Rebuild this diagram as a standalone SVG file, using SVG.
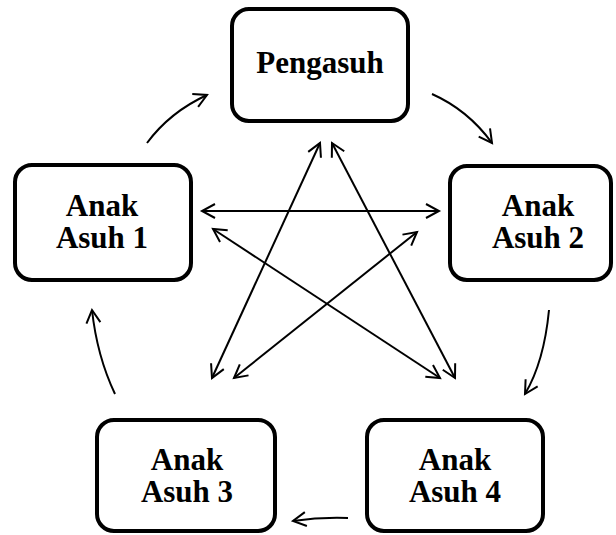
<svg xmlns="http://www.w3.org/2000/svg" width="616" height="535" viewBox="0 0 616 535">
<style>
.box{fill:#fff;stroke:#000;stroke-width:4}
.t{font-family:"Liberation Serif","Times New Roman",serif;font-weight:bold;font-size:31px;text-anchor:middle;fill:#000}
.c{fill:none;stroke:#000;stroke-width:2}
</style>
<defs>
<marker id="ah" markerUnits="userSpaceOnUse" markerWidth="20" markerHeight="20" refX="0" refY="0" viewBox="-14 -10 16 20" orient="auto-start-reverse" overflow="visible">
<path d="M-13,-7 L0,0 L-13,7" fill="none" stroke="#000" stroke-width="2"/>
</marker>
</defs>
<rect width="616" height="535" fill="#fff"/>
<g id="connectors">
<line class="c" x1="202" y1="211" x2="439" y2="211" marker-start="url(#ah)" marker-end="url(#ah)"/>
<line class="c" x1="320" y1="143" x2="212" y2="378" marker-start="url(#ah)" marker-end="url(#ah)"/>
<line class="c" x1="332" y1="143" x2="455" y2="378" marker-start="url(#ah)" marker-end="url(#ah)"/>
<line class="c" x1="213" y1="229" x2="440" y2="378" marker-start="url(#ah)" marker-end="url(#ah)"/>
<line class="c" x1="417" y1="232" x2="234" y2="378" marker-start="url(#ah)" marker-end="url(#ah)"/>
<path class="c" d="M147,143 Q170,112 207,95" marker-end="url(#ah)"/>
<path class="c" d="M432,94 Q468,110 492,143" marker-end="url(#ah)"/>
<path class="c" d="M549,310 Q544,362 525,394" marker-end="url(#ah)"/>
<path class="c" d="M348,518 Q320,517 293,521" marker-end="url(#ah)"/>
<path class="c" d="M115,394 Q97,356 92,310" marker-end="url(#ah)"/>
</g>
<g id="pengasuh">
<rect class="box" x="232" y="9" width="176" height="112" rx="17"/>
<text class="t" x="320" y="73">Pengasuh</text>
</g>
<g id="anak-asuh-1">
<rect class="box" x="15" y="165" width="176" height="115" rx="17"/>
<text class="t" x="102" y="216">Anak</text>
<text class="t" x="102" y="248">Asuh 1</text>
</g>
<g id="anak-asuh-2">
<rect class="box" x="450" y="166" width="161" height="114" rx="17"/>
<text class="t" x="538" y="216">Anak</text>
<text class="t" x="538" y="248">Asuh 2</text>
</g>
<g id="anak-asuh-3">
<rect class="box" x="97" y="420" width="178" height="111" rx="17"/>
<text class="t" x="187" y="470">Anak</text>
<text class="t" x="187" y="502">Asuh 3</text>
</g>
<g id="anak-asuh-4">
<rect class="box" x="367" y="420" width="176" height="111" rx="17"/>
<text class="t" x="455" y="470">Anak</text>
<text class="t" x="455" y="502">Asuh 4</text>
</g>
</svg>
